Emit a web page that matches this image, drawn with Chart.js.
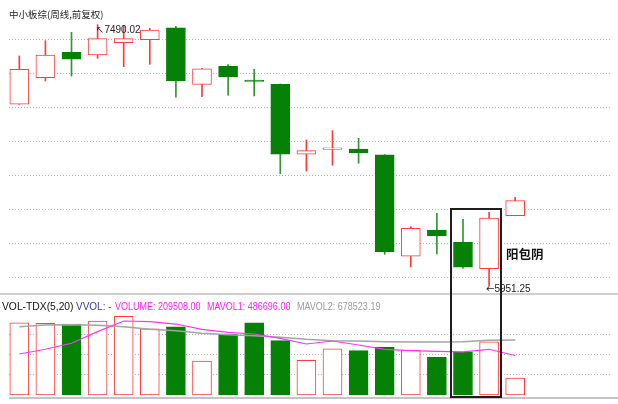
<!DOCTYPE html>
<html>
<head>
<meta charset="utf-8">
<script src="https://cdn.jsdelivr.net/npm/chart.js@4.4.0/dist/chart.umd.min.js"></script>
<style>
body { margin: 0; background: #fff; width: 618px; height: 404px; position: relative; overflow: hidden; font-family: "Liberation Sans", Arial, sans-serif; }
canvas { position: absolute; left: 0; }
#main { top: 0; }
#vol { top: 293px; }
.t { position: absolute; white-space: nowrap; line-height: 1; font-size: 10px; }
.n { transform: scaleX(0.9); transform-origin: left center; }
.arr { font-family: "DejaVu Sans", sans-serif; font-size: 10px; }
.line { position: absolute; background: #cfcfcf; }
#box { position: absolute; left: 450px; top: 208px; width: 48px; height: 186px; border: 2px solid #1e1e1e; }
</style>
</head>
<body>
<canvas id="main" width="618" height="293"></canvas>
<canvas id="vol" width="618" height="111"></canvas>

<div class="line" style="left:0;top:293px;width:618px;height:2px"></div>
<div class="line" style="left:9px;top:397px;width:609px;height:2px;background:#c4c4c4"></div>
<div id="box"></div>

<div class="t" style="left:9px;top:10px;font-size:9.5px;color:#222;font-family:'Noto Sans CJK SC',sans-serif">中小板综(周线,前复权)</div>
<div class="t" style="left:96px;top:25px;font-size:10px;color:#222"><span class="arr">↖</span>7490.02</div>
<div class="t" style="left:486px;top:284px;font-size:10px;color:#222"><span class="arr">←</span>5951.25</div>
<div class="t" style="left:506px;top:248px;font-size:12.5px;font-weight:bold;color:#111;font-family:'Noto Sans CJK SC',sans-serif">阳包阴</div>

<div class="t" style="left:2px;top:302px;font-size:10.3px;color:#111">VOL-TDX(5,20)</div>
<div class="t" style="left:76px;top:302px;color:#3a3a9a">VVOL: -</div>
<div class="t n" style="left:115px;top:302px;color:#ff22ff">VOLUME: 209508.00</div>
<div class="t n" style="left:207px;top:302px;color:#ff22ff">MAVOL1: 486696.00</div>
<div class="t n" style="left:297px;top:302px;color:#9a9a9a">MAVOL2: 678523.19</div>

<script>
// weekly candles
var openP  = [7022, 7178, 7328, 7312, 7384, 7402, 7472, 7139, 7245, 7164, 7139, 6729, 6756, 6759, 6724, 6129, 6282, 6210, 6055, 6367];
var highP  = [7306, 7396, 7445, 7490.02, 7486, 7469, 7480, 7233, 7255, 7228, 7141, 6812, 6867, 6822, 6726, 6302, 6381, 6345, 6387, 6475];
var lowP   = [7022, 7159, 7188, 7292, 7243, 7257, 7063, 7066, 7076, 7071, 6614, 6629, 6663, 6675, 6139, 6066, 6141, 6058, 5951.25, 6366];
var closeP = [7228, 7312, 7287, 7408, 7408, 7459, 7161, 7231, 7184, 7156, 6728, 6749, 6766, 6737, 6155, 6292, 6247, 6063, 6353, 6455];

var volume = [890000, 883000, 874000, 911000, 969000, 816000, 841000, 419000, 751000, 890000,
              669000, 427000, 570000, 546000, 591000, 550000, 468000, 530000, 656000, 209508];
var mavol1 = [505000, 563000, 637000, 780000, 911000, 903000, 874000, 809000, 772000, 751000,
              698000, 628000, 665000, 616000, 563000, 546000, 538000, 530000, 563000, 486696];
var mavol2 = [841000, 862000, 866000, 858000, 841000, 809000, 792000, 760000, 743000, 730000,
              711000, 686000, 669000, 665000, 656000, 653000, 653000, 656000, 674000, 678523];

var priceGrid = [6000, 6200, 6400, 6600, 6800, 7000, 7200, 7400];
var volGrid = [250000, 500000, 750000];

var RED = '#ff3b3b';
var GREEN = '#058205';
var WICK_GREEN = '#2f962f';

var up = closeP.map(function (c, i) { return c >= openP[i]; });

function xAxis() {
  return { type: 'linear', min: -0.395, max: 22.71, offset: false, display: false };
}

function gridAxis(min, max, ticks) {
  return {
    min: min, max: max,
    afterBuildTicks: function (axis) { axis.ticks = ticks.map(function (v) { return { value: v }; }); },
    ticks: { display: false },
    grid: { color: '#b4b4b4', lineWidth: 1, drawTicks: false },
    border: { display: false, dash: [1, 2] }
  };
}

new Chart(document.getElementById('main'), {
  type: 'bar',
  data: {
    datasets: [{
      // bodies
      data: openP.map(function (o, i) { return { x: i, y: [o, closeP[i]] }; }),
      backgroundColor: up.map(function (u) { return u ? '#ffffff' : GREEN; }),
      borderColor: up.map(function (u) { return u ? RED : GREEN; }),
      borderWidth: 1,
      borderSkipped: false,
      barThickness: 19,
      grouped: false,
      order: 0
    }, {
      // wicks
      data: lowP.map(function (l, i) { return { x: i, y: [l, highP[i]] }; }),
      backgroundColor: up.map(function (u) { return u ? RED : WICK_GREEN; }),
      borderWidth: 0,
      barThickness: 1,
      grouped: false,
      order: 1
    }]
  },
  options: {
    responsive: false,
    animation: false,
    layout: { padding: { left: 9, right: 6, top: 0, bottom: 0 } },
    plugins: { legend: { display: false }, tooltip: { enabled: false } },
    scales: {
      x: xAxis(),
      y: gridAxis(5911.76, 7635.29, priceGrid)
    }
  }
});

new Chart(document.getElementById('vol'), {
  type: 'bar',
  data: {
    datasets: [{
      type: 'line',
      data: mavol1.map(function (v, i) { return { x: i, y: v }; }),
      borderColor: '#ff33ff',
      borderWidth: 1.2,
      pointRadius: 0,
      order: 0
    }, {
      type: 'line',
      data: mavol2.map(function (v, i) { return { x: i, y: v }; }),
      borderColor: '#a4a4a4',
      borderWidth: 1.5,
      pointRadius: 0,
      order: 1
    }, {
      data: volume.map(function (v, i) { return { x: i, y: v }; }),
      backgroundColor: up.map(function (u) { return u ? '#ffffff' : GREEN; }),
      borderColor: up.map(function (u) { return u ? RED : GREEN; }),
      borderWidth: 1,
      borderSkipped: false,
      barThickness: 19,
      grouped: false,
      order: 2
    }]
  },
  options: {
    responsive: false,
    animation: false,
    layout: { padding: { left: 9, right: 6, top: 0, bottom: 9 } },
    plugins: { legend: { display: false }, tooltip: { enabled: false } },
    scales: {
      x: xAxis(),
      y: gridAxis(0, 1256130, volGrid)
    }
  }
});
</script>
</body>
</html>
